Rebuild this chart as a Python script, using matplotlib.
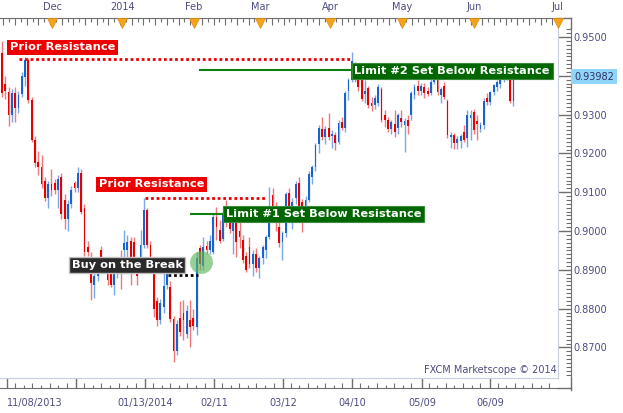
import numpy as np
import matplotlib.pyplot as plt
import matplotlib.transforms as mtrans

# daily candles, prices in pips (x 10000)
opens = [9460, 9380, 9358, 9300, 9355, 9318, 9352, 9398, 9440, 9338,
         9235, 9178, 9165, 9128, 9085, 9120, 9125, 9105, 9138, 9080,
         9030, 9070, 9125, 9110, 9150, 9060, 8960, 8900, 8862, 8885,
         8950, 8915, 8900, 8890, 8862, 8892, 8915, 8950, 8950, 8975,
         8972, 8900, 8905, 8965, 9055, 8965, 8895, 8820, 8770, 8805,
         8860, 8855, 8772, 8690, 8775, 8788, 8735, 8770, 8775, 8752,
         8955, 8910, 8962, 8950, 8945, 9036, 9003, 8980, 9048, 9030,
         9000, 9023, 9000, 8977, 8935, 8960, 8915, 8940, 8905, 8930,
         8951, 8985, 9093, 9050, 9010, 8972, 8995, 9098, 9062, 9085,
         9125, 9075, 9058, 9080, 9140, 9165, 9225, 9262, 9242, 9265,
         9245, 9248, 9230, 9282, 9265, 9360, 9390, 9425, 9405, 9388,
         9352, 9368, 9330, 9325, 9330, 9365, 9300, 9286, 9262, 9275,
         9265, 9290, 9272, 9285, 9300, 9350, 9375, 9362, 9372, 9362,
         9355, 9385, 9395, 9350, 9375, 9335, 9242, 9248, 9228, 9232,
         9255, 9240, 9290, 9307, 9283, 9262, 9273, 9343, 9332, 9358,
         9370, 9380, 9400, 9408, 9407, 9335]
highs = [9490, 9400, 9370, 9365, 9370, 9360, 9410, 9448, 9445, 9345,
         9245, 9205, 9195, 9140, 9130, 9160, 9135, 9145, 9150, 9095,
         9080, 9115, 9130, 9165, 9160, 9070, 8975, 8945, 8895, 8905,
         8962, 8930, 8918, 8905, 8895, 8915, 8950, 9003, 8990, 8985,
         8985, 8925, 9003, 9085, 9060, 8975, 8905, 8830, 8825, 8892,
         8905, 8870, 8780, 8770, 8820, 8822, 8810, 8822, 8800, 8946,
         8965, 8985, 8975, 8990, 9045, 9062, 9028, 9055, 9080, 9045,
         9050, 9030, 9036, 8990, 8945, 8985, 8950, 8955, 8935, 8965,
         8990, 9114, 9110, 9075, 9030, 9000, 9100, 9110, 9085, 9130,
         9138, 9082, 9090, 9155, 9170, 9228, 9272, 9294, 9270, 9304,
         9260, 9255, 9285, 9294, 9362, 9395, 9461, 9435, 9415, 9395,
         9390, 9375, 9345, 9350, 9378, 9372, 9312, 9295, 9285, 9312,
         9305, 9312, 9292, 9300, 9362, 9380, 9390, 9382, 9382, 9370,
         9400, 9415, 9400, 9372, 9383, 9340, 9255, 9252, 9245, 9250,
         9273, 9312, 9312, 9315, 9299, 9280, 9342, 9356, 9362, 9380,
         9390, 9433, 9425, 9420, 9433, 9402]
lows = [9345, 9340, 9270, 9280, 9280, 9305, 9345, 9375, 9330, 9230,
        9165, 9145, 9110, 9078, 9060, 9090, 9095, 9060, 9030, 9005,
        9000, 9060, 9100, 9100, 9045, 8935, 8935, 8822, 8828, 8870,
        8905, 8895, 8861, 8855, 8835, 8880, 8850, 8915, 8930, 8860,
        8895, 8860, 8895, 8955, 8955, 8900, 8778, 8755, 8760, 8790,
        8850, 8765, 8662, 8680, 8730, 8720, 8725, 8700, 8745, 8732,
        8900, 8900, 8940, 8940, 8940, 8977, 8970, 8975, 9010, 8995,
        8940, 8933, 8956, 8918, 8895, 8905, 8885, 8895, 8880, 8915,
        8930, 8980, 9055, 9000, 8960, 8925, 8985, 9055, 9005, 9070,
        9048, 8998, 9040, 9075, 9122, 9155, 9200, 9235, 9225, 9235,
        9215, 9209, 9225, 9260, 9255, 9338, 9385, 9385, 9360, 9335,
        9330, 9318, 9310, 9315, 9322, 9280, 9268, 9255, 9250, 9242,
        9250, 9268, 9204, 9250, 9285, 9340, 9350, 9350, 9342, 9348,
        9350, 9378, 9350, 9330, 9340, 9240, 9215, 9212, 9212, 9215,
        9230, 9217, 9235, 9250, 9235, 9255, 9262, 9325, 9325, 9350,
        9362, 9369, 9385, 9390, 9330, 9322]
closes = [9355, 9360, 9300, 9355, 9318, 9350, 9400, 9440, 9338, 9235,
          9175, 9165, 9122, 9085, 9120, 9105, 9105, 9135, 9045, 9030,
          9070, 9105, 9110, 9150, 9050, 8945, 8945, 8865, 8885, 8898,
          8930, 8905, 8875, 8862, 8892, 8905, 8895, 8968, 8972, 8930,
          8910, 8885, 8965, 9055, 8965, 8910, 8800, 8770, 8815, 8858,
          8890, 8772, 8690, 8760, 8740, 8770, 8795, 8752, 8755, 8930,
          8915, 8960, 8950, 8975, 9035, 9010, 8975, 9045, 9023, 9005,
          9025, 8972, 8985, 8925, 8900, 8915, 8940, 8905, 8930, 8960,
          8985, 9028, 9062, 9020, 8970, 8995, 9095, 9065, 9075, 9122,
          9065, 9055, 9080, 9148, 9165, 9222, 9265, 9242, 9262, 9243,
          9250, 9228, 9278, 9265, 9355, 9388, 9438, 9390, 9372, 9340,
          9360, 9325, 9322, 9342, 9370, 9286, 9285, 9262, 9280, 9256,
          9298, 9280, 9284, 9270, 9355, 9372, 9362, 9375, 9356, 9352,
          9385, 9400, 9358, 9365, 9345, 9247, 9248, 9228, 9236, 9245,
          9235, 9298, 9300, 9260, 9275, 9273, 9336, 9332, 9358, 9376,
          9385, 9402, 9420, 9395, 9335, 9398.2]

month_pos = [15.2, 36.4, 58.2, 78.2, 99.4, 121.2, 143.0, 168.4]
month_lbl = ['Dec', '2014', 'Feb', 'Mar', 'Apr', 'May', 'Jun', 'Jul']
date_pos = [1.4, 22.4, 43.3, 64.2, 85.2, 106.0, 127.3, 147.9]
date_lbl = ['11/08/2013', '', '01/13/2014', '02/11', '03/12', '04/10', '05/09', '06/09']
price_ticks = [0.87, 0.88, 0.89, 0.90, 0.91, 0.92, 0.93, 0.94, 0.95]
price_lbl = ['0.8700', '0.8800', '0.8900', '0.9000', '0.9100', '0.9200', '0.9300', '', '0.9500']
last_price = 0.93982

o = np.array(opens) / 10000.0
h = np.array(highs) / 10000.0
l = np.array(lows) / 10000.0
c = np.array(closes) / 10000.0
idx = np.arange(len(o))

TXT = '#4c4c80'
RULER = '#6e6e6e'

fig = plt.figure(figsize=(6.23, 4.13), dpi=100)
ax = fig.add_axes([0, 1 - 378 / 413, 558 / 623, 350 / 413])
ax.set_xlim(-0.6, 168.5)
ax.set_ylim(0.86212, 0.95232)
for s in ['left', 'top']:
    ax.spines[s].set_visible(False)
for s in ['right', 'bottom']:
    ax.spines[s].set_color('#c8cedc')
ax.set_xticks([])
ax.set_yticks([])

up = c >= o
wick_col = np.where(up, '#78a8e8', '#f07878')
body_col = np.where(up, '#1a62d0', '#e80000')
ax.vlines(idx, l, h, colors=wick_col, lw=1, zorder=2)
body = np.where(np.abs(c - o) < 0.0002, 0.0002, np.abs(c - o))
ax.bar(idx, body, bottom=np.minimum(o, c), width=0.55, color=body_col, lw=0, zorder=3)

# right price ruler
ry = ax.secondary_yaxis(1 + 13 / 558)
ry.spines['right'].set_color(RULER)
ry.set_yticks(price_ticks, price_lbl)
ry.set_yticks(np.arange(0.862, 0.9525, 0.001), minor=True)
ry.tick_params(which='major', direction='in', length=9.4, width=1, color=RULER,
               labelcolor=TXT, labelsize=7, pad=2)
ry.tick_params(which='minor', direction='in', length=3.4, width=0.8, color=RULER)

# bottom date ruler
bx = ax.secondary_xaxis(-10 / 350)
bx.spines['bottom'].set_color(RULER)
bx.set_xticks(date_pos, date_lbl)
bx.set_xticks(np.arange(1.4 + 2.61, 168, 5.22), minor=True)
bx.tick_params(which='major', direction='in', length=7.2, width=1, color=RULER,
               labelcolor=TXT, labelsize=7, pad=7)
bx.tick_params(which='minor', direction='in', length=3.8, width=0.8, color=RULER)
first = bx.get_xticklabels()[0]
first.set_ha('left')
first.set_x(-0.2)
bx2 = ax.secondary_xaxis(-10 / 350)
bx2.spines['bottom'].set_visible(False)
bx2.set_xticks([])
bx2.set_xticks([p for p in np.arange(1.4 + 5.22, 168, 5.22) if min(abs(p - d) for d in date_pos) > 1],
               minor=True)
bx2.tick_params(which='minor', direction='in', length=2.2, width=0.8, color=RULER)

# top month ruler
tx = ax.secondary_xaxis(1 + 10 / 350)
tx.spines['top'].set_color(RULER)
tx.set_xticks(month_pos, month_lbl)
tx.set_xticks(np.arange(0.4, 168, 3.54), minor=True)
tx.tick_params(which='major', direction='in', length=0, labelcolor=TXT, labelsize=7, pad=4)
tx.tick_params(which='minor', direction='in', length=5, width=0.8, color=RULER)
tx2 = ax.secondary_xaxis(1 + 10 / 350)
tx2.spines['top'].set_visible(False)
tx2.set_xticks([])
tx2.set_xticks(np.arange(0.4 + 1.77, 168, 3.54), minor=True)
tx2.tick_params(which='minor', direction='in', length=2.8, width=0.8, color=RULER)

blend = mtrans.blended_transform_factory(ax.transData, ax.transAxes)
ax.plot(month_pos, [1 + 5.5 / 350] * len(month_pos), ls='none', marker='v', ms=6.5,
        color='#f7a21b', mec='#e08a10', mew=0.5, transform=blend, clip_on=False, zorder=5)

# ruler line extensions to the corner
ax.plot([1, 1 + 13 / 558], [1 + 10 / 350] * 2, transform=ax.transAxes, color=RULER,
        lw=1, clip_on=False)
ax.plot([1 + 13 / 558] * 2, [1 + 10 / 350, 1], transform=ax.transAxes, color=RULER,
        lw=1, clip_on=False)
ax.plot([1, 1 + 13 / 558], [-10 / 350] * 2, transform=ax.transAxes, color=RULER,
        lw=1, clip_on=False)
ax.plot([1 + 13 / 558] * 2, [0, -12 / 350], transform=ax.transAxes, color=RULER,
        lw=1, clip_on=False)

# last price marker
yblend = mtrans.blended_transform_factory(ax.transAxes, ax.transData)
ax.text(1 + 16 / 558, last_price, f'{last_price:.5f}', transform=yblend, ha='left',
        va='center', fontsize=7, color='#303060', clip_on=False,
        bbox=dict(boxstyle='square,pad=0.3', fc='#8fd5fb', ec='none'))

# annotations
dots = (0, (1, 1))
ax.plot([5.2, 106], [0.9443, 0.9443], color='#ee0000', lw=2, ls=dots, zorder=4)
ax.plot([43.3, 79.7], [0.9085, 0.9085], color='#ee0000', lw=2, ls=dots, zorder=4)
ax.plot([50.3, 59.4], [0.8887, 0.8887], color='black', lw=2, ls=dots, zorder=4)
ax.plot([60, 106], [0.9415, 0.9415], color='#108010', lw=1.5, zorder=4)
ax.plot([57.3, 67], [0.9044, 0.9044], color='#108010', lw=1.5, zorder=4)

ax.scatter([60.2], [0.8920], s=270, color='#5cb85c', alpha=0.65, lw=0, zorder=6)

box_kw = dict(color='white', fontweight='bold', fontsize=8.2, ha='left', va='center', zorder=7)
ax.text(2.3, 0.9473, 'Prior Resistance', **box_kw,
        bbox=dict(boxstyle='square,pad=0.25', fc='#ee0000', ec='none'))
ax.text(29.3, 0.9120, 'Prior Resistance', **box_kw,
        bbox=dict(boxstyle='square,pad=0.25', fc='#ee0000', ec='none'))
ax.text(106.8, 0.9412, 'Limit #2 Set Below Resistance', **box_kw,
        bbox=dict(boxstyle='square,pad=0.25', fc='#006600', ec='#3a8a3a', lw=0.8))
ax.text(67.8, 0.9044, 'Limit #1 Set Below Resistance', **box_kw,
        bbox=dict(boxstyle='square,pad=0.25', fc='#006600', ec='#3a8a3a', lw=0.8))
ax.text(21.1, 0.8912, 'Buy on the Break', **box_kw,
        bbox=dict(boxstyle='square,pad=0.25', fc='#2a2a2a', ec='#c0c0c0', lw=1))

ax.text(0.997, 0.008, 'FXCM Marketscope \u00a9 2014', transform=ax.transAxes,
        ha='right', va='bottom', fontsize=7, color=TXT)

fig.savefig('out.png', dpi=100)
